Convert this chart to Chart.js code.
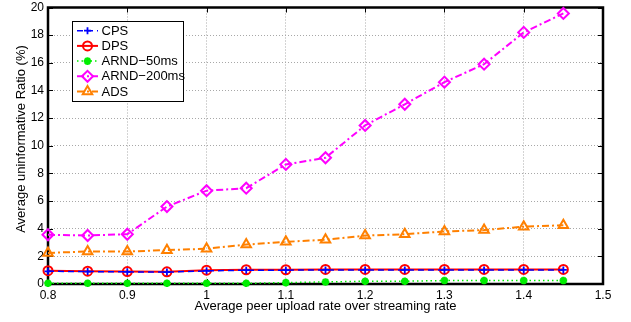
<!DOCTYPE html>
<html><head><meta charset="utf-8">
<script src="https://cdn.jsdelivr.net/npm/chart.js@4/dist/chart.umd.min.js"></script>
<style>html,body{margin:0;padding:0;background:#fff}canvas{display:block}</style>
</head><body>
<canvas id="c" width="631" height="322"></canvas>
<script>
const xValues = [0.8,0.85,0.9,0.95,1.0,1.05,1.1,1.15,1.2,1.25,1.3,1.35,1.4,1.45];
const cpsValues = [0.92,0.9,0.88,0.86,0.95,1.0,1.0,1.02,1.02,1.02,1.02,1.02,1.02,1.02];
const dpsValues = [0.96,0.93,0.9,0.88,1.0,1.03,1.03,1.05,1.05,1.05,1.05,1.05,1.05,1.05];
const arnd50Values = [0.05,0.05,0.05,0.05,0.05,0.05,0.1,0.15,0.2,0.2,0.25,0.25,0.25,0.25];
const arnd200Values = [3.56,3.51,3.6,5.6,6.75,6.93,8.65,9.13,11.47,13.0,14.6,15.9,18.2,19.57];
const adsValues = [2.25,2.35,2.35,2.45,2.55,2.85,3.05,3.2,3.5,3.6,3.8,3.9,4.15,4.25];
const seriesLabels = ['CPS','DPS','ARND\u221250ms','ARND\u2212200ms','ADS'];
const xTicks = [0.8,0.9,1.0,1.1,1.2,1.3,1.4,1.5];
const yTicks = [0,2,4,6,8,10,12,14,16,18,20];
const xTitle = 'Average peer upload rate over streaming rate';
const yTitle = 'Average uninformative Ratio (%)';

const FONT = '"Liberation Sans", Arial, sans-serif';
const pts = vals => xValues.map((x,i)=>({x:x,y:vals[i]}));

function ds(label, vals, color, dash, style, radius, width, bw) {
  return {label, data: pts(vals), borderColor: color, backgroundColor: 'rgba(0,0,0,0)',
    pointBorderColor: color, pointBackgroundColor: style==='star'? color : 'rgba(0,0,0,0)',
    borderDash: dash, borderWidth: width, pointStyle: style, pointRadius: radius,
    pointBorderWidth: bw, pointHoverRadius: radius, clip: false, tension: 0, fill: false};
}

const datasets = [
  ds(seriesLabels[0], cpsValues, '#0000ff', [6,4], 'cross', 3.5, 1.5, 1.8),
  ds(seriesLabels[1], dpsValues, '#ff0000', [], 'circle', 4.5, 2, 2),
  ds(seriesLabels[2], arnd50Values, '#00ee00', [1.5,3], 'star', 3.8, 1.5, 2.4),
  ds(seriesLabels[3], arnd200Values, '#ff00ff', [7,3,2,3], 'rectRot', 5.5, 2, 2),
  ds(seriesLabels[4], adsValues, '#ff8000', [7,3,2,3], 'triangle', 5.5, 2, 2)
];

const framePlugin = {
  id: 'frame',
  beforeDatasetsDraw(chart) {
    const {ctx, chartArea: a, scales} = chart;
    ctx.save();
    ctx.strokeStyle = '#000';
    ctx.lineWidth = 1;
    const L = 5;
    ctx.beginPath();
    xTicks.forEach(v => { const px = Math.round(scales.x.getPixelForValue(v))+0.5;
      ctx.moveTo(px, a.top); ctx.lineTo(px, a.top+L);
      ctx.moveTo(px, a.bottom); ctx.lineTo(px, a.bottom-L); });
    yTicks.forEach(v => { const py = Math.round(scales.y.getPixelForValue(v))+0.5;
      ctx.moveTo(a.left, py); ctx.lineTo(a.left+L, py);
      ctx.moveTo(a.right, py); ctx.lineTo(a.right-L, py); });
    ctx.stroke();
    ctx.lineWidth = 2.5;
    ctx.strokeRect(a.left, a.top, a.right-a.left, a.bottom-a.top);
    ctx.restore();
  },
  afterDraw(chart) {
    const {ctx, chartArea: a} = chart;
    ctx.save();
    ctx.fillStyle = '#000';
    ctx.font = '13px ' + FONT;
    ctx.textAlign = 'center'; ctx.textBaseline = 'middle';
    ctx.fillText(xTitle, (a.left+a.right)/2, 306);
    ctx.translate(21, 139);
    ctx.rotate(-Math.PI/2);
    ctx.fillText(yTitle, 0, 0);
    ctx.restore();
    // legend
    ctx.save();
    const bx = 72.5, by = 21.5, bw = 111, bh = 80;
    ctx.fillStyle = '#fff';
    ctx.fillRect(bx, by, bw, bh);
    ctx.strokeStyle = '#000'; ctx.lineWidth = 1;
    ctx.strokeRect(bx, by, bw, bh);
    chart.data.datasets.forEach((d, i) => {
      const y = 30.7 + i*15.2;
      ctx.save();
      ctx.strokeStyle = d.borderColor; ctx.lineWidth = d.borderWidth;
      ctx.setLineDash(d.borderDash);
      ctx.beginPath(); ctx.moveTo(77, y); ctx.lineTo(98, y); ctx.stroke();
      ctx.setLineDash([]);
      ctx.strokeStyle = d.pointBorderColor; ctx.fillStyle = d.pointBackgroundColor;
      ctx.lineWidth = d.pointBorderWidth;
      Chart.helpers.drawPoint(ctx, {pointStyle: d.pointStyle, radius: d.pointRadius, rotation: 0, borderWidth: d.pointBorderWidth}, 87.5, y);
      ctx.restore();
      ctx.fillStyle = '#000'; ctx.font = '13px ' + FONT;
      ctx.textAlign = 'left'; ctx.textBaseline = 'middle';
      ctx.fillText(d.label, 101.5, y+0.5);
    });
    ctx.restore();
  }
};

new Chart(document.getElementById('c'), {
  type: 'line',
  data: {datasets},
  plugins: [framePlugin],
  options: {
    responsive: false, animation: false, devicePixelRatio: 1,
    layout: {padding: {left: 0, right: 28, top: 5, bottom: 0}},
    plugins: {legend: {display: false}, tooltip: {enabled: false}},
    scales: {
      x: {type: 'linear', min: 0.8, max: 1.5,
        afterFit: s => { s.height = 38; s.paddingLeft = 0; s.paddingRight = 0; },
        afterBuildTicks: s => { s.ticks = xTicks.map(v => ({value: v})); },
        ticks: {color: '#000', font: {size: 12, family: FONT}, padding: 4, maxRotation: 0,
          callback: v => String(Number(v.toFixed(2)))},
        grid: {color: '#a8a8a8', lineWidth: 1, drawTicks: false},
        border: {display: false, dash: [1,2]}},
      y: {type: 'linear', min: 0, max: 20,
        afterFit: s => { s.width = 48; s.paddingTop = 0; s.paddingBottom = 0; },
        afterBuildTicks: s => { s.ticks = yTicks.map(v => ({value: v})); },
        ticks: {color: '#000', font: {size: 12, family: FONT}, padding: 4,
          callback: v => String(v)},
        grid: {color: '#a8a8a8', lineWidth: 1, drawTicks: false},
        border: {display: false, dash: [1,2]}}
    }
  }
});
</script>
</body></html>
